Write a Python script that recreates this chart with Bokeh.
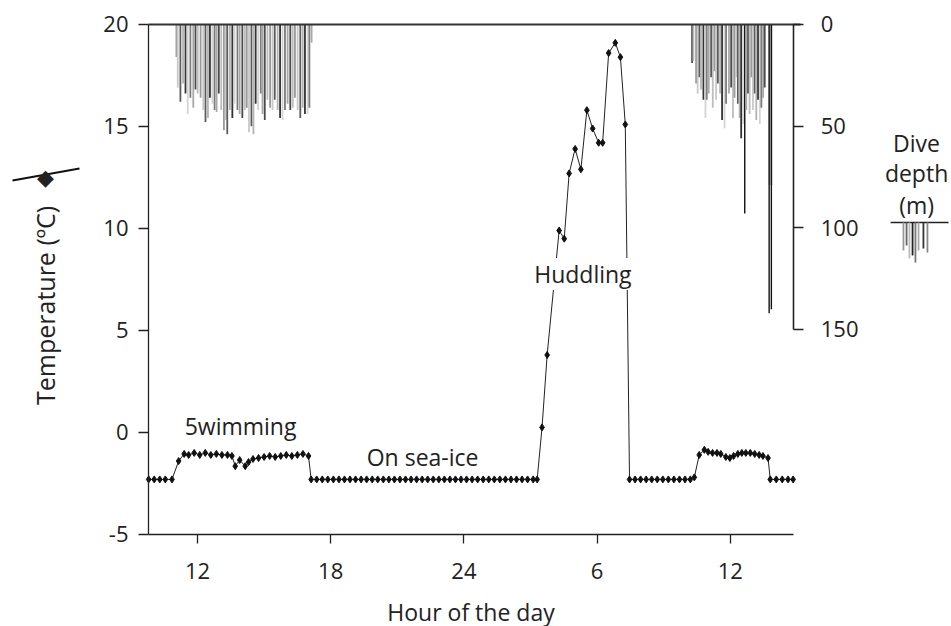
import math
from bokeh.plotting import figure
from bokeh.models import (Range1d, LinearAxis, FixedTicker, ColumnDataSource,
                          Label, Arrow)
from bokeh.embed import file_html
from bokeh.resources import INLINE

# ---------------- data ----------------
temp_hours = [9.8, 10.05, 10.3, 10.55, 10.85,
              11.15, 11.4, 11.6, 11.85, 12.1, 12.35, 12.6, 12.85, 13.1, 13.35, 13.55,
              13.7, 13.9, 14.15, 14.3, 14.5, 14.75, 15.0, 15.25, 15.5, 15.75, 16.0,
              16.25, 16.5, 16.75, 17.0,
              17.12, 17.37, 17.62, 17.87, 18.12, 18.37, 18.62, 18.87, 19.12, 19.37,
              19.62, 19.87, 20.12, 20.37, 20.62, 20.87, 21.12, 21.37, 21.62, 21.87,
              22.12, 22.37, 22.62, 22.87, 23.12, 23.37, 23.62, 23.87, 24.12, 24.37,
              24.62, 24.87, 25.12, 25.37, 25.62, 25.87, 26.12, 26.37, 26.62, 26.87,
              27.12, 27.3,
              27.52, 27.75, 28.29, 28.52, 28.74, 29.01, 29.27, 29.54, 29.8, 30.07,
              30.25, 30.52, 30.82, 31.05, 31.27,
              31.46, 31.71, 31.96, 32.21, 32.46, 32.71, 32.96, 33.21, 33.46, 33.71,
              33.96, 34.2, 34.38,
              34.6, 34.83, 35.0, 35.2, 35.4, 35.57, 35.8, 35.98, 36.15, 36.34, 36.52,
              36.7, 36.9, 37.1, 37.3, 37.47, 37.7,
              37.8, 38.07, 38.34, 38.6, 38.83]
temp_values = [-2.3, -2.3, -2.3, -2.3, -2.3,
               -1.4, -1.05, -1.1, -1.0, -1.1, -1.0, -1.1, -1.05, -1.1, -1.1, -1.15,
               -1.65, -1.35, -1.65, -1.45, -1.3, -1.25, -1.2, -1.15, -1.2, -1.15, -1.1,
               -1.15, -1.1, -1.05, -1.15,
               -2.3, -2.3, -2.3, -2.3, -2.3, -2.3, -2.3, -2.3, -2.3, -2.3,
               -2.3, -2.3, -2.3, -2.3, -2.3, -2.3, -2.3, -2.3, -2.3, -2.3,
               -2.3, -2.3, -2.3, -2.3, -2.3, -2.3, -2.3, -2.3, -2.3, -2.3,
               -2.3, -2.3, -2.3, -2.3, -2.3, -2.3, -2.3, -2.3, -2.3, -2.3,
               -2.3, -2.3,
               0.25, 3.8, 9.9, 9.5, 12.7, 13.9, 12.9, 15.8, 14.9, 14.2,
               14.2, 18.6, 19.1, 18.4, 15.1,
               -2.3, -2.3, -2.3, -2.3, -2.3, -2.3, -2.3, -2.3, -2.3, -2.3,
               -2.3, -2.3, -2.2,
               -1.1, -0.85, -0.95, -1.0, -1.0, -1.05, -1.2, -1.25, -1.15, -1.05, -1.0,
               -1.0, -1.0, -1.05, -1.1, -1.15, -1.25,
               -2.3, -2.3, -2.3, -2.3, -2.3]

dive_hours = [11.05, 11.11, 11.23, 11.35, 11.46, 11.56, 11.68, 11.81, 11.91, 12.01,
              12.14, 12.26, 12.36, 12.47, 12.56, 12.67, 12.77, 12.86, 12.96, 13.07,
              13.19, 13.27, 13.34, 13.46, 13.57, 13.67, 13.80, 13.90, 14.02, 14.13,
              14.22, 14.32, 14.43, 14.52, 14.62, 14.73, 14.85, 14.93, 15.03, 15.15,
              15.27, 15.38, 15.48, 15.61, 15.72, 15.83, 15.94, 16.06, 16.18, 16.29,
              16.39, 16.51, 16.63, 16.74, 16.84, 16.96, 17.04, 17.14,
              34.28, 34.34, 34.46, 34.53, 34.61, 34.68, 34.79, 34.88, 34.94, 35.03,
              35.14, 35.21, 35.29, 35.36, 35.44, 35.54, 35.63, 35.74, 35.81, 35.94,
              36.04, 36.12, 36.19, 36.27, 36.34, 36.42, 36.49, 36.57, 36.65, 36.72,
              36.80, 36.87, 36.95, 37.02, 37.10, 37.17, 37.25, 37.33, 37.40, 37.48,
              37.55, 37.81, 37.75, 37.85]
dive_depths = [16, 31, 38, 29, 34, 44, 36, 41, 32, 34,
               36, 42, 48, 46, 36, 39, 42, 43, 34, 42,
               52, 47, 54, 42, 46, 39, 42, 44, 46, 42,
               41, 53, 50, 54, 39, 42, 34, 44, 47, 37,
               41, 42, 37, 42, 46, 47, 42, 39, 42, 41,
               36, 42, 46, 41, 44, 44, 41, 9,
               19, 18, 29, 34, 26, 32, 37, 46, 37, 34,
               26, 41, 23, 37, 29, 34, 47, 51, 39, 34,
               31, 46, 36, 26, 39, 46, 56, 49, 93, 42,
               34, 44, 26, 42, 34, 47, 37, 49, 41, 36,
               31, 79, 142, 140]

x_ticks = [12, 18, 24, 30, 36]
x_tick_labels = ["12", "18", "24", "6", "12"]
temp_ticks = [-5, 0, 5, 10, 15, 20]
temp_tick_labels = ["-5", "0", "5", "10", "15", "20"]
depth_ticks = [0, 50, 100, 150]

# axis extents (hours / degC / m)
X_START, X_END = 9.794, 38.86
T_MIN, T_MAX = -5, 20
D_MIN, D_MAX = 0, 150

# ---------------- style ----------------
FONT = "Open Sans"
TXT = "#222222"
TICK_FS = "22px"
ANN_FS = "23px"
shade_cycle = ["#9a9a9a", "#c8c8c8", "#5c5c5c", "#b4b4b4", "#333333",
               "#d4d4d4", "#7c7c7c", "#a8a8a8", "#4a4a4a", "#bdbdbd"]
dive_colors = [shade_cycle[i % len(shade_cycle)] for i in range(len(dive_hours))]
dive_widths = [1.8] * len(dive_hours)
for i, d in enumerate(dive_depths):
    if d > 60:
        dive_colors[i] = "#111111"
        dive_widths[i] = 1.4
n = len(dive_hours)
dive_colors[n - 3] = "#c6c6c6"
dive_widths[n - 3] = 4

# the frame covers the whole canvas; axes are pinned with fixed_location
p = figure(width=951, height=626, output_backend="svg", toolbar_location=None,
           x_range=Range1d(3.126, 45.964), y_range=Range1d(-9.51, 21.176),
           min_border=0, min_border_left=0, min_border_right=0,
           min_border_top=0, min_border_bottom=0)
p.extra_y_ranges = {"depth": Range1d(start=296.1, end=-11.8)}
p.outline_line_color = None
p.xgrid.visible = False
p.ygrid.visible = False
p.background_fill_color = "white"
p.border_fill_color = "white"

# dives
dsrc = ColumnDataSource(dict(h=dive_hours, d=dive_depths, c=dive_colors, w=dive_widths))
p.segment(x0="h", y0=0, x1="h", y1="d", source=dsrc, y_range_name="depth",
          line_color="c", line_width="w")
# sea surface line (depth 0) along the record
p.segment(x0=[X_START], y0=[0], x1=[X_END + 0.3], y1=[0], y_range_name="depth",
          line_color="#333333", line_width=2.2)

# temperature
tsrc = ColumnDataSource(dict(h=temp_hours, t=temp_values))
p.line("h", "t", source=tsrc, line_color="#222222", line_width=1)
p.scatter("h", "t", source=tsrc, marker="diamond", size=7,
          fill_color="#111111", line_color="#111111")

# axes
def style_axis(ax, tick_out=10):
    ax.axis_line_color = "#222222"
    ax.axis_line_width = 1.3
    ax.major_tick_line_color = "#222222"
    ax.major_tick_line_width = 1.3
    ax.major_tick_in = 0
    ax.major_tick_out = tick_out
    ax.minor_tick_line_color = None
    ax.major_label_text_font = FONT
    ax.major_label_text_font_size = TICK_FS
    ax.major_label_text_color = TXT

xax = p.xaxis[0]
style_axis(xax, 9)
xax.fixed_location = T_MIN
xax.bounds = (X_START, X_END)
xax.ticker = FixedTicker(ticks=x_ticks)
xax.major_label_overrides = {t: l for t, l in zip(x_ticks, x_tick_labels)}
xax.major_label_standoff = 20
xax.axis_label = "Hour of the day"
xax.axis_label_text_font = FONT
xax.axis_label_text_font_size = ANN_FS
xax.axis_label_text_font_style = "normal"
xax.axis_label_text_color = TXT
xax.axis_label_standoff = 13

yax = p.yaxis[0]
style_axis(yax, 10)
yax.fixed_location = X_START
yax.bounds = (T_MIN, T_MAX)
yax.ticker = FixedTicker(ticks=temp_ticks)
yax.major_label_overrides = {t: l for t, l in zip(temp_ticks, temp_tick_labels)}
yax.major_label_standoff = 10

rax = LinearAxis(y_range_name="depth", bounds=(D_MIN, D_MAX),
                 ticker=FixedTicker(ticks=depth_ticks), fixed_location=X_END)
style_axis(rax, 10)
rax.axis_line_width = 1.6
rax.major_label_standoff = 17
p.add_layout(rax, "right")

# annotations
def lab(x, y, text, size=ANN_FS, angle=0, bg=None, font=FONT):
    l = Label(x=x, y=y, text=text, text_font=font, text_font_size=size,
              text_color=TXT, text_align="center", text_baseline="middle",
              angle=angle)
    if bg:
        l.background_fill_color = bg
    p.add_layout(l)

lab(13.94, 0.34, "5wimming")
lab(22.14, -1.18, "On sea-ice")
lab(29.36, 7.77, "Huddling", bg="white")
lab(5.153, 6.23, "Temperature (ºC)", size="25px", angle=math.pi / 2)

# left legend: line with diamond
p.add_layout(Arrow(end=None, x_start=3.667, y_start=12.35, x_end=6.685, y_end=12.94,
                   line_color="#111111", line_width=2))
lab(5.153, 12.5, "◆", size="22px", font="DejaVu Sans")

# right legend: dive depth
lab(44.39, 14.17, "Dive")
lab(44.39, 12.70, "depth")
lab(44.39, 11.13, "(m)")
p.add_layout(Arrow(end=None, x_start=43.22, y_start=10.29, x_end=45.83, y_end=10.29,
                   line_color="#222222", line_width=1.5))
legend_bar_x = [43.80, 43.94, 44.07, 44.21, 44.34, 44.48, 44.70, 44.88]
legend_bar_y = [8.92, 9.17, 8.53, 8.68, 8.33, 8.92, 9.02, 8.82]
legend_bar_c = ["#999999", "#666666", "#bbbbbb", "#222222", "#777777", "#aaaaaa",
                "#333333", "#888888"]
for bx, by, bc in zip(legend_bar_x, legend_bar_y, legend_bar_c):
    p.add_layout(Arrow(end=None, x_start=bx, y_start=10.29, x_end=bx, y_end=by,
                       line_color=bc, line_width=1.8))

open("out.html", "w").write(file_html(p, INLINE))
